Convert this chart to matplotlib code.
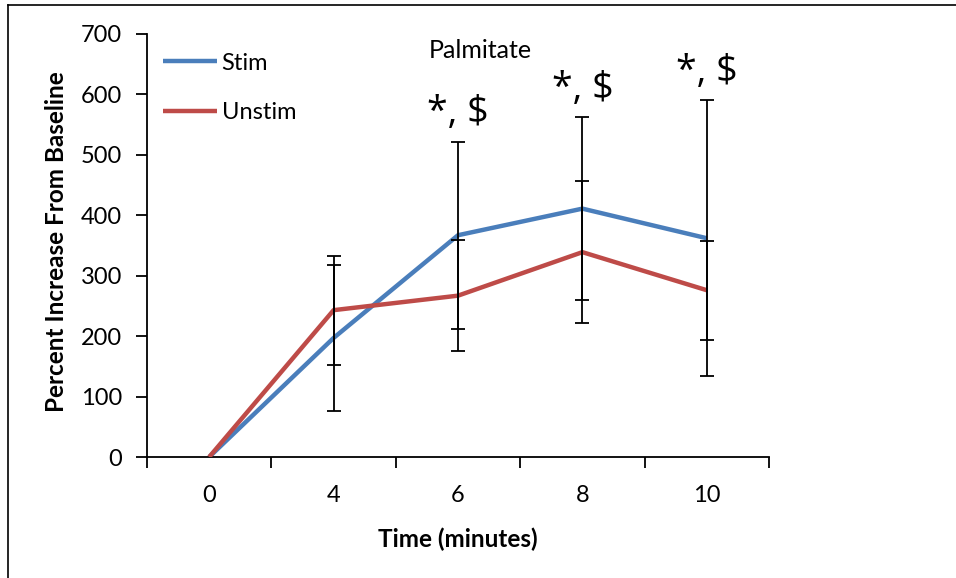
import matplotlib
matplotlib.use("Agg")
import matplotlib.pyplot as plt
from matplotlib.lines import Line2D
import numpy as np

plt.rcParams['font.family'] = ['Lato', 'DejaVu Sans']

# ---- data ----
time_labels = ["0", "4", "6", "8", "10"]
stim = [0, 197, 367, 411, 362]
stim_err = [0, 121, 155, 151, 228]
unstim = [0, 243, 267, 339, 276]
unstim_err = [0, 90, 92, 118, 82]
sig_labels = ["", "", "*, $", "*, $", "*, $"]
series_names = ["Stim", "Unstim"]
y_label = "Percent Increase From Baseline"
x_label = "Time (minutes)"
annotation_title = "Palmitate"

BLUE = "#4A7EBB"
RED = "#BE4B48"

W, H = 956, 578
fig = plt.figure(figsize=(W / 100, H / 100), dpi=100)
ax = fig.add_axes([147 / W, 1 - 457 / H, (769 - 147) / W, (457 - 34) / H])

x = np.arange(len(time_labels))

ax.plot(x, stim, color=BLUE, lw=3.2, label=series_names[0], zorder=2, solid_capstyle='butt')
ax.plot(x, unstim, color=RED, lw=3.2, label=series_names[1], zorder=3, solid_capstyle='butt')

for vals, errs in ((stim, stim_err), (unstim, unstim_err)):
    v = np.array(vals, float)
    e = np.array(errs, float)
    m = e > 0
    ax.errorbar(x[m], v[m], yerr=e[m], fmt='none', ecolor='black', elinewidth=1.3,
                capsize=5, capthick=1.3, zorder=4)

# significance marks above the Stim error bars
for i, lab in enumerate(sig_labels):
    if lab:
        ax.annotate(lab, (x[i], stim[i] + stim_err[i]), xytext=(0, 7),
                    textcoords='offset points', ha='center', va='bottom',
                    fontsize=27, color='black', family=['Open Sans', 'DejaVu Sans'])

ax.text(2.18, 673, annotation_title, ha='center', va='center', fontsize=18)

ax.set_xlim(-0.5, len(time_labels) - 0.5)
ax.set_ylim(0, 700)
ax.set_yticks(np.arange(0, 701, 100))
ax.set_xticks(np.arange(-0.5, len(time_labels), 1.0))
ax.set_xticklabels([])
ax.set_xticks(x, minor=True)
ax.set_xticklabels(time_labels, minor=True)
ax.tick_params(axis='x', which='major', direction='out', length=8, width=1.3)
ax.tick_params(axis='x', which='minor', length=0, pad=20, labelsize=17)
ax.tick_params(axis='y', direction='out', length=8, width=1.3, pad=10, labelsize=17)

for s in ('top', 'right'):
    ax.spines[s].set_visible(False)
for s in ('left', 'bottom'):
    ax.spines[s].set_linewidth(1.3)

ax.set_ylabel(y_label, fontsize=17.5, fontweight='bold')
ax.yaxis.set_label_coords(-0.127, 0.51)
ax.set_xlabel(x_label, fontsize=17.5, fontweight='bold')
ax.xaxis.set_label_coords(0.5, -0.166)

leg = ax.legend(loc='upper left', bbox_to_anchor=(0.01, 0.978), frameon=False,
                fontsize=17, handlelength=2.3, handletextpad=0.2, labelspacing=1.2,
                borderaxespad=0)

# outer frame (chart border, cut off at right and bottom)
fig.add_artist(Line2D([8 / W, 1], [1 - 5 / H, 1 - 5 / H], transform=fig.transFigure,
                      color='black', lw=1.2))
fig.add_artist(Line2D([8 / W, 8 / W], [0, 1 - 5 / H], transform=fig.transFigure,
                      color='black', lw=1.2))

fig.savefig("out.png", dpi=100)
